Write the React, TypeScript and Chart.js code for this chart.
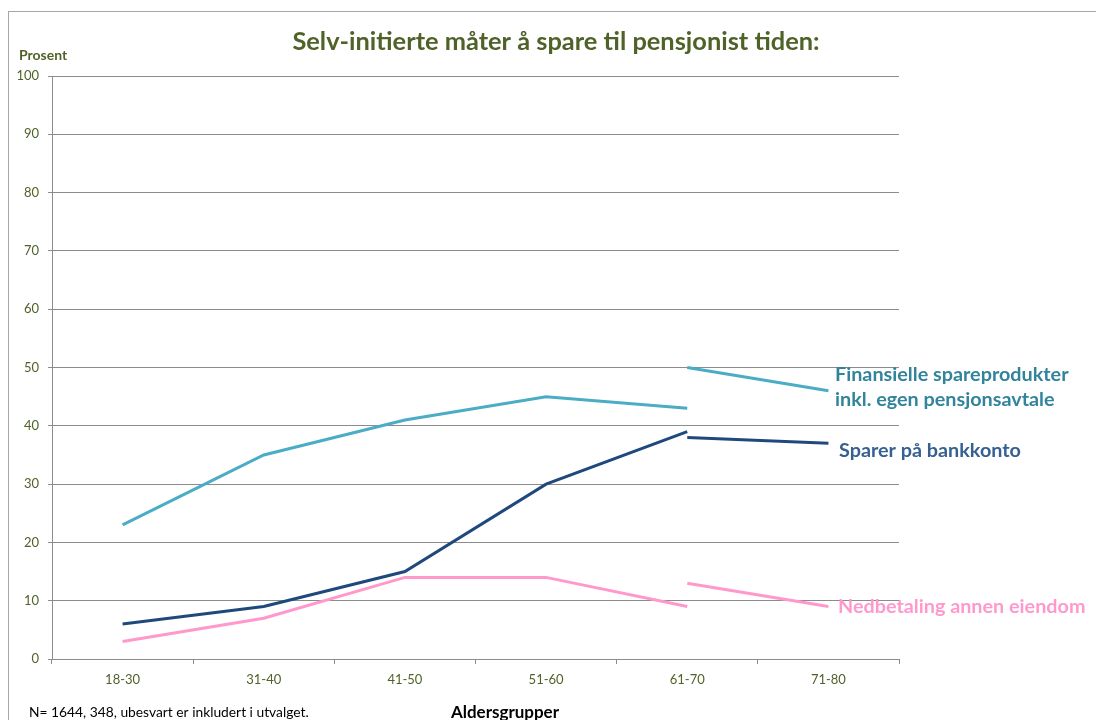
import React, { useEffect, useRef } from "react";
import { Chart, registerables } from "chart.js";

Chart.register(...registerables);

const categories = ["18-30", "31-40", "41-50", "51-60", "61-70", "71-80"];
const finansielle = [23, 35, 41, 45, 43, null];
const finansielleEnd = [null, null, null, null, 50, 46];
const bankkonto = [6, 9, 15, 30, 39, null];
const bankkontoEnd = [null, null, null, null, 38, 37];
const nedbetaling = [3, 7, 14, 14, 9, null];
const nedbetalingEnd = [null, null, null, null, 13, 9];

const titleText = "Selv-initierte måter å spare til pensjonist tiden:";
const yAxisTitle = "Prosent";
const xAxisTitle = "Aldersgrupper";
const noteText = "N= 1644, 348, ubesvart er inkludert i utvalget.";
const finansLabel = ["Finansielle spareprodukter", "inkl. egen pensjonsavtale"];
const bankLabel = "Sparer på bankkonto";
const nedLabel = "Nedbetaling annen eiendom";

const OLIVE = "#4F6228";
const LIGHTBLUE = "#4BACC6";
const DARKBLUE = "#1F497D";
const PINK = "#FF99CC";
const GRID = "#8C8C8C";
const FONT = "Lato";

const textPlugin = {
  id: "texts",
  afterDraw(chart: any) {
    const ctx = chart.ctx;
    ctx.save();
    // outer frame
    ctx.strokeStyle = "#A6A6A6";
    ctx.lineWidth = 1;
    ctx.strokeRect(8.5, 11.5, 1200, 800);

    ctx.textBaseline = "middle";
    // title
    ctx.fillStyle = OLIVE;
    ctx.font = `bold 25.4px ${FONT}`;
    ctx.textAlign = "center";
    ctx.fillText(titleText, 556, 42);

    // y axis title
    ctx.font = `bold 14px ${FONT}`;
    ctx.textAlign = "left";
    ctx.fillText(yAxisTitle, 19, 55);

    // x axis title
    ctx.fillStyle = "#000000";
    ctx.font = `bold 17px ${FONT}`;
    ctx.textAlign = "center";
    ctx.fillText(xAxisTitle, 505, 713);

    // note
    ctx.font = `13.8px ${FONT}`;
    ctx.textAlign = "left";
    ctx.fillText(noteText, 29, 713);

    // series labels
    ctx.font = `bold 19.8px ${FONT}`;
    ctx.fillStyle = "#31849B";
    ctx.fillText(finansLabel[0], 835, 375);
    ctx.fillText(finansLabel[1], 835, 400);
    ctx.fillStyle = "#366092";
    ctx.fillText(bankLabel, 839, 451);
    ctx.fillStyle = PINK;
    ctx.fillText(nedLabel, 838, 607);
    ctx.restore();
  },
};

function line(data: (number | null)[], color: string) {
  return {
    data,
    borderColor: color,
    backgroundColor: color,
    borderWidth: 3,
    pointRadius: 0,
    fill: false,
    tension: 0,
    spanGaps: false,
  };
}

export default function App() {
  const ref = useRef<HTMLCanvasElement>(null);
  useEffect(() => {
    if (!ref.current) return;
    const chart = new Chart(ref.current, {
      type: "line",
      data: {
        labels: categories,
        datasets: [
          line(finansielle, LIGHTBLUE),
          line(finansielleEnd, LIGHTBLUE),
          line(bankkonto, DARKBLUE),
          line(bankkontoEnd, DARKBLUE),
          line(nedbetaling, PINK),
          line(nedbetalingEnd, PINK),
        ],
      },
      options: {
        animation: false,
        responsive: false,
        devicePixelRatio: 1,
        layout: { padding: { left: 0, top: 76, right: 197, bottom: 21 } },
        plugins: { legend: { display: false }, tooltip: { enabled: false } },
        scales: {
          x: {
            offset: true,
            grid: {
              offset: true,
              drawOnChartArea: false,
              drawTicks: true,
              tickLength: 5,
              color: GRID,
            },
            border: { color: GRID, width: 1 },
            ticks: { color: OLIVE, font: { family: FONT, size: 13 }, padding: 8, maxRotation: 0 },
            afterFit(s: any) {
              s.height = 40;
            },
          },
          y: {
            min: 0,
            max: 100,
            ticks: { stepSize: 10, color: OLIVE, font: { family: FONT, size: 13 }, padding: 9 },
            grid: { color: GRID, tickLength: 4 },
            border: { color: GRID, width: 1 },
            afterFit(s: any) {
              s.width = 52;
            },
          },
        },
      } as any,
      plugins: [textPlugin],
    });
    return () => chart.destroy();
  }, []);
  return (
    <canvas
      ref={ref}
      width={1096}
      height={720}
      style={{ position: "absolute", left: 0, top: 0, width: 1096, height: 720 }}
    />
  );
}
